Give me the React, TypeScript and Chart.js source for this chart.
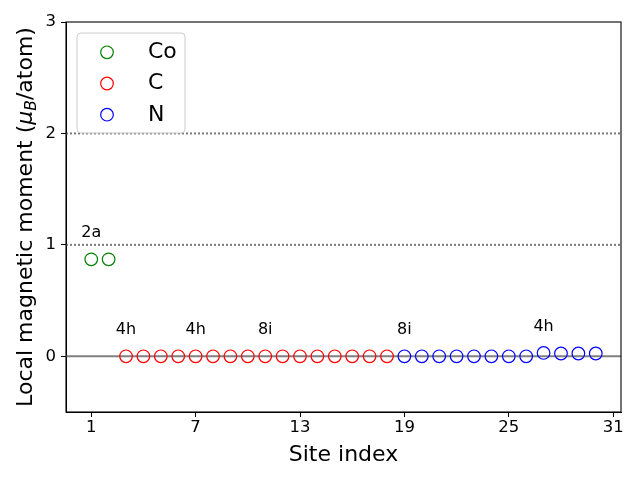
import React, { useEffect, useRef } from "react";
import { Chart, registerables } from "chart.js";

Chart.register(...registerables);

// ---- data ----
const coSites = [1, 2];
const coMoments = [0.87, 0.87];
const cSites = [3, 4, 5, 6, 7, 8, 9, 10, 11, 12, 13, 14, 15, 16, 17, 18];
const cMoments = [0, 0, 0, 0, 0, 0, 0, 0, 0, 0, 0, 0, 0, 0, 0, 0];
const nSites = [19, 20, 21, 22, 23, 24, 25, 26, 27, 28, 29, 30];
const nMoments = [0, 0, 0, 0, 0, 0, 0, 0, 0.03, 0.025, 0.025, 0.025];
const xTicks = [1, 7, 13, 19, 25, 31];
const yTicks = [0, 1, 2, 3];
const annSites = [1, 3, 7, 11, 19, 27];
const annValues = [0.87, 0, 0, 0, 0, 0.03];
const annLabels = ["2a", "4h", "4h", "8i", "8i", "4h"];
const annOffset = 0.2;
const solidLines = [0];
const dottedLines = [1, 2];

const FONT = "'DejaVu Sans', sans-serif";

export default function App() {
  const ref = useRef<HTMLCanvasElement | null>(null);

  useEffect(() => {
    if (!ref.current) return;

    const custom = {
      id: "custom",
      beforeDatasetsDraw(chart: any) {
        const { ctx, chartArea: a, scales } = chart;
        const y = scales.y;
        ctx.save();
        ctx.beginPath();
        ctx.rect(a.left, a.top, a.right - a.left, a.bottom - a.top);
        ctx.clip();
        ctx.strokeStyle = "#808080";
        ctx.lineWidth = 2;
        solidLines.forEach((v) => {
          const py = y.getPixelForValue(v);
          ctx.beginPath();
          ctx.moveTo(a.left, py);
          ctx.lineTo(a.right, py);
          ctx.stroke();
        });
        ctx.lineWidth = 2;
        ctx.setLineDash([2, 2]);
        ctx.strokeStyle = "#7a7a7a";
        dottedLines.forEach((v) => {
          const py = y.getPixelForValue(v);
          ctx.beginPath();
          ctx.moveTo(a.left, py);
          ctx.lineTo(a.right, py);
          ctx.stroke();
        });
        ctx.restore();
      },
      afterDatasetsDraw(chart: any) {
        const { ctx, chartArea: a, scales } = chart;
        const x = scales.x;
        const y = scales.y;
        ctx.save();
        // annotations
        ctx.fillStyle = "#000";
        ctx.font = `16px ${FONT}`;
        ctx.textAlign = "center";
        ctx.textBaseline = "alphabetic";
        annLabels.forEach((lab, i) => {
          ctx.fillText(
            lab,
            x.getPixelForValue(annSites[i]),
            y.getPixelForValue(annValues[i] + annOffset)
          );
        });
        // frame
        ctx.strokeStyle = "#000";
        ctx.lineWidth = 1.1;
        ctx.strokeRect(a.left, a.top, a.right - a.left, a.bottom - a.top);

        // legend
        const lx = 77, ly = 33, lw = 108, lh = 100, r = 4;
        ctx.beginPath();
        ctx.moveTo(lx + r, ly);
        ctx.arcTo(lx + lw, ly, lx + lw, ly + lh, r);
        ctx.arcTo(lx + lw, ly + lh, lx, ly + lh, r);
        ctx.arcTo(lx, ly + lh, lx, ly, r);
        ctx.arcTo(lx, ly, lx + lw, ly, r);
        ctx.closePath();
        ctx.fillStyle = "rgba(255,255,255,0.8)";
        ctx.fill();
        ctx.strokeStyle = "#cccccc";
        ctx.lineWidth = 1;
        ctx.stroke();
        chart.data.datasets.forEach((ds: any, i: number) => {
          const my = 52.3 + i * 31.2;
          ctx.beginPath();
          ctx.arc(107, my, 6.3, 0, Math.PI * 2);
          ctx.strokeStyle = ds.borderColor;
          ctx.lineWidth = 1.2;
          ctx.stroke();
          ctx.fillStyle = "#000";
          ctx.font = `22px ${FONT}`;
          ctx.textAlign = "left";
          ctx.textBaseline = "alphabetic";
          ctx.fillText(ds.label, 148, my + 5.8);
        });

        // x title
        ctx.fillStyle = "#000";
        ctx.font = `22px ${FONT}`;
        ctx.textAlign = "center";
        ctx.textBaseline = "alphabetic";
        ctx.fillText("Site index", (a.left + a.right) / 2, 461);

        // y title with subscript
        const parts = [
          { t: "Local magnetic moment (", f: `22px ${FONT}`, dy: 0 },
          { t: "\u03bc", f: `italic 22px ${FONT}`, dy: 0 },
          { t: "B", f: `italic 15.5px ${FONT}`, dy: 3.5 },
          { t: "/atom)", f: `22px ${FONT}`, dy: 0 },
        ];
        let total = 0;
        const widths = parts.map((p) => {
          ctx.font = p.f;
          const w = ctx.measureText(p.t).width;
          total += w;
          return w;
        });
        ctx.translate(32, (a.top + a.bottom) / 2);
        ctx.rotate(-Math.PI / 2);
        ctx.textAlign = "left";
        let cx = -total / 2;
        parts.forEach((p, i) => {
          ctx.font = p.f;
          ctx.fillText(p.t, cx, p.dy);
          cx += widths[i];
        });
        ctx.restore();
      },
    };

    const mk = (xs: number[], ys: number[]) => xs.map((v, i) => ({ x: v, y: ys[i] }));

    const chart = new Chart(ref.current, {
      type: "scatter",
      data: {
        datasets: [
          { label: "Co", data: mk(coSites, coMoments), borderColor: "#008000", backgroundColor: "rgba(0,0,0,0)" },
          { label: "C", data: mk(cSites, cMoments), borderColor: "#ff0000", backgroundColor: "rgba(0,0,0,0)" },
          { label: "N", data: mk(nSites, nMoments), borderColor: "#0000ff", backgroundColor: "rgba(0,0,0,0)" },
        ],
      },
      options: {
        responsive: false,
        animation: false,
        layout: { padding: { top: 22, right: 19, left: 0, bottom: 0 } },
        elements: {
          point: { radius: 6.3, borderWidth: 1.2, pointStyle: "circle", hoverRadius: 6.3 },
        },
        plugins: { legend: { display: false }, tooltip: { enabled: false } },
        scales: {
          x: {
            type: "linear",
            min: -0.45,
            max: 31.45,
            afterBuildTicks: (s: any) => {
              s.ticks = xTicks.map((v) => ({ value: v }));
            },
            afterFit: (s: any) => {
              s.height = 68;
            },
            grid: { drawOnChartArea: false, drawTicks: true, tickLength: 5, color: "#000", tickWidth: 1 },
            border: { display: true, color: "#000", width: 1 },
            ticks: { color: "#000", font: { family: FONT, size: 16.5 }, padding: 1, maxRotation: 0, autoSkip: false },
          },
          y: {
            type: "linear",
            min: -0.5,
            max: 3,
            afterBuildTicks: (s: any) => {
              s.ticks = yTicks.map((v) => ({ value: v }));
            },
            afterFit: (s: any) => {
              s.width = 66;
            },
            grid: { drawOnChartArea: false, drawTicks: true, tickLength: 5, color: "#000", tickWidth: 1 },
            border: { display: true, color: "#000", width: 1 },
            ticks: { color: "#000", font: { family: FONT, size: 16.5 }, padding: 5, autoSkip: false },
          },
        },
      },
      plugins: [custom],
    });

    return () => chart.destroy();
  }, []);

  return (
    <canvas
      ref={ref}
      width={640}
      height={480}
      style={{ position: "absolute", left: 0, top: 0, display: "block", background: "#fff" }}
    />
  );
}
